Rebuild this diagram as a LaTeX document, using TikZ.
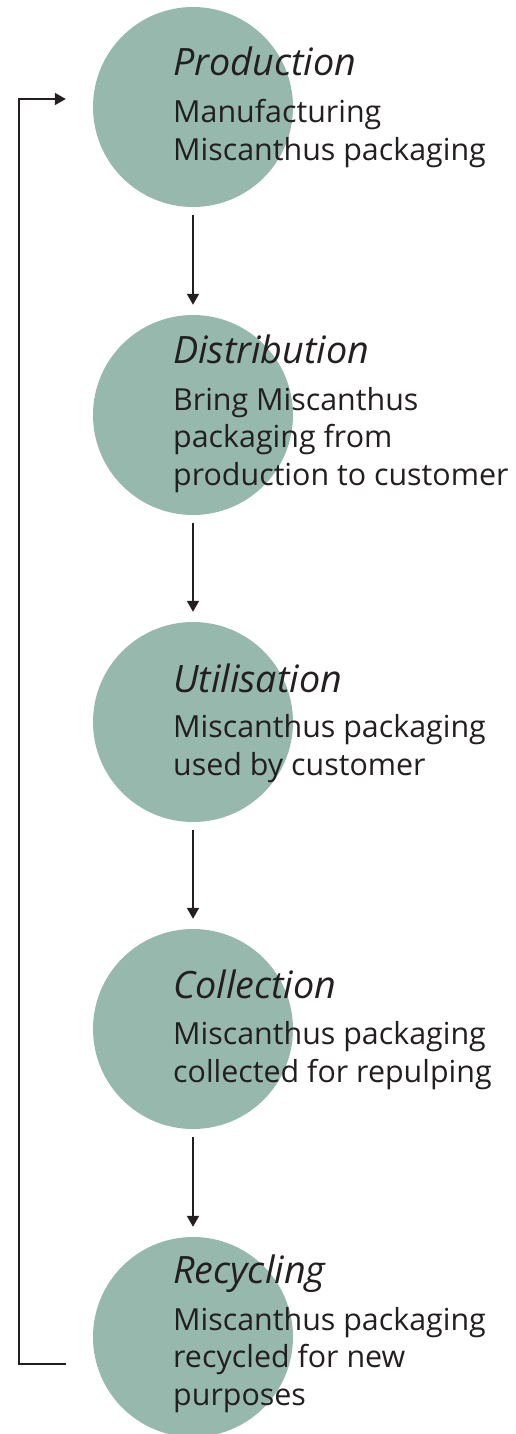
\documentclass[tikz,border=0pt]{standalone}
\usepackage{fontspec}
\setmainfont{Open Sans}
\usetikzlibrary{arrows.meta}
\definecolor{sage}{HTML}{96B8AD}
\definecolor{ink}{HTML}{231F20}
\tikzset{
  stage/.style={circle, fill=sage, minimum size=200pt, inner sep=0pt},
  title/.style={anchor=base west, inner sep=0pt, text=ink, font=\fontsize{37.7}{38}\selectfont\itshape},
  % multi-line bodies: the base anchor sits on the last line
  body/.style={anchor=base west, inner sep=0pt, text=ink, align=left,
               font=\fontsize{30.4}{37.5}\selectfont},
  flow/.style={draw=ink, line width=1.9pt, -{Triangle[width=12pt,length=11pt]}},
}
\begin{document}
\begin{tikzpicture}[x=1pt, y=-1pt]
\useasboundingbox (0,0) rectangle (516,1434);

% circles
\node[stage] (c1) at (193,107) {};
\node[stage] (c2) at (193,415) {};
\node[stage] (c3) at (193,722) {};
\node[stage] (c4) at (193,1029) {};
\node[stage] (c5) at (193,1337) {};

% labels
\node[title] (t1) at (173,76) {Production};
\node[body]  (b1) at (173,160.5) {Manufacturing\\Miscanthus packaging};
\node[title] (t2) at (173,363) {Distribution};
\node[body]  (b2) at (173,485) {Bring Miscanthus\\packaging from\\production to customer};
\node[title] (t3) at (173,692) {Utilisation};
\node[body]  (b3) at (173,775) {Miscanthus packaging\\used by customer};
\node[title] (t4) at (173,998) {Collection};
\node[body]  (b4) at (173,1082) {Miscanthus packaging\\collected for repulping};
\node[title] (t5) at (173,1283) {Recycling};
\node[body]  (b5) at (173,1405) {Miscanthus packaging\\recycled for new\\purposes};

% forward flow
\draw[flow, shorten <=8pt, shorten >=10pt] (c1.south) -- (c2.north);
\draw[flow, shorten <=8pt, shorten >=10pt] (c2.south) -- (c3.north);
\draw[flow, shorten <=8pt, shorten >=10pt] (c3.south) -- (c4.north);
\draw[flow, shorten <=8pt, shorten >=10pt] (c4.south) -- (c5.north);

% return loop
\coordinate (loopstart) at ([xshift=-27pt, yshift=-27pt]c5.west);
\coordinate (loopend) at ([xshift=-27pt, yshift=8pt]c1.west);
\draw[flow] (loopstart) -- ++(-47,0) |- (loopend);
\end{tikzpicture}
\end{document}
